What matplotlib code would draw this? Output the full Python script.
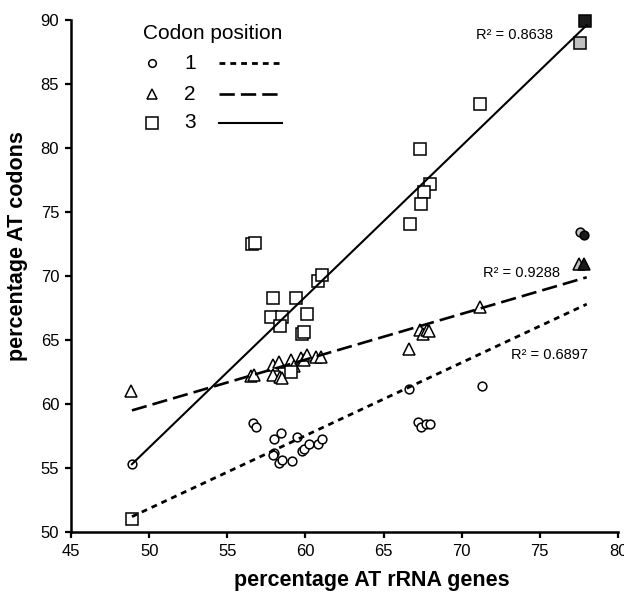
import matplotlib
matplotlib.use("Agg")
import matplotlib.pyplot as plt

plt.rcParams['font.family'] = ['Liberation Sans', 'DejaVu Sans']

# Codon position 1 (circles)
pos1_x = [48.9, 56.66, 56.84, 57.99, 58.42, 59.44, 57.99, 57.9, 58.33, 58.48, 59.16,
          59.75, 59.93, 60.2, 60.78, 61.03, 66.65, 71.3, 67.2, 67.4, 67.7, 68.0]
pos1_y = [55.3, 58.55, 58.2, 57.24, 57.71, 57.45, 56.2, 56.0, 55.4, 55.6, 55.57,
          56.35, 56.5, 56.85, 56.9, 57.3, 61.15, 61.4, 58.6, 58.2, 58.4, 58.4]
# Codon position 2 (triangles)
pos2_x = [48.84, 56.5, 56.7, 57.9, 58.3, 57.9, 58.4, 58.5, 59.1, 59.3, 59.7, 59.9,
          60.1, 60.7, 61.0, 67.3, 67.5, 67.75, 67.9, 66.6, 71.17]
pos2_y = [61.0, 62.2, 62.3, 63.05, 63.3, 62.3, 62.1, 62.0, 63.4, 63.0, 63.6, 63.4,
          63.8, 63.65, 63.65, 65.8, 65.5, 65.8, 65.7, 64.3, 67.55]
# Codon position 3 (squares)
pos3_x = [48.9, 56.6, 56.8, 57.9, 59.4, 57.8, 58.5, 58.4, 60.1, 59.8, 59.9, 59.1,
          60.8, 61.05, 67.3, 68.0, 67.6, 67.4, 66.7, 71.2]
pos3_y = [51.0, 72.5, 72.6, 68.3, 68.3, 66.8, 66.8, 66.1, 67.0, 65.5, 65.65, 62.5,
          69.6, 70.05, 79.9, 77.2, 76.6, 75.6, 74.1, 83.4]

# highlighted taxa (gray and black filled)
hl_x = {'1': [77.57, 77.85], '2': [77.5, 77.85], '3': [77.6, 77.88]}
hl_y = {'1': [73.4, 73.2], '2': [70.9, 70.9], '3': [88.2, 89.9]}
hl_colors = ['#c0c0c0', '#1a1a1a']

# regression lines (endpoints of fitted lines)
fit_x = [48.9, 78.0]
fit1_y = [51.2, 67.8]
fit2_y = [59.5, 69.9]
fit3_y = [55.3, 89.6]
r2_labels = ['R\u00b2 = 0.6897', 'R\u00b2 = 0.9288', 'R\u00b2 = 0.8638']
r2_pos = [(73.15, 63.8), (71.36, 70.2), (70.9, 88.8)]

legend_title = 'Codon position'
legend_labels = ['1', '2', '3']

fig = plt.figure(figsize=(6.24, 5.98), dpi=100)
ax = fig.add_axes([71/624, 66/598, 547/624, 512/598])

mk = dict(markerfacecolor='white', markeredgecolor='black', markeredgewidth=1.1,
          linestyle='none', zorder=2, clip_on=False)
styles = {
    '1': dict(marker='o', markersize=6.3),
    '2': dict(marker='^', markersize=8),
    '3': dict(marker='s', markersize=8.5),
}
ax.plot(pos1_x, pos1_y, **styles['1'], **mk)
ax.plot(pos2_x, pos2_y, **styles['2'], **mk)
ax.plot(pos3_x, pos3_y, **styles['3'], **mk)
for key in ['1', '2', '3']:
    for xx, yy, c in zip(hl_x[key], hl_y[key], hl_colors):
        ax.plot([xx], [yy], **styles[key], markerfacecolor=c, markeredgecolor='black',
                markeredgewidth=1.1, linestyle='none', zorder=2, clip_on=False)

line_styles = {
    '1': dict(color='black', linewidth=2.0, linestyle=(0, (2.1, 1.8))),
    '2': dict(color='black', linewidth=1.9, linestyle=(0, (5.8, 2.3))),
    '3': dict(color='black', linewidth=1.5, linestyle='-'),
}
ax.plot(fit_x, fit1_y, zorder=3, **line_styles['1'])
ax.plot(fit_x, fit2_y, zorder=3, **line_styles['2'])
ax.plot(fit_x, fit3_y, zorder=3, **line_styles['3'])

for lab, (xx, yy) in zip(r2_labels, r2_pos):
    ax.text(xx, yy, lab, fontsize=10.5, ha='left', va='center')

# legend drawn manually
ax.text(0.1316, 0.9746, legend_title, transform=ax.transAxes, fontsize=15,
        ha='left', va='center')
rows_y = [0.916, 0.855, 0.799]
leg_ms = {'1': 5.5, '2': 7, '3': 8}
for key, ry in zip(legend_labels, rows_y):
    ax.plot([0.148], [ry], transform=ax.transAxes, clip_on=False,
            marker=styles[key]['marker'], markersize=leg_ms[key],
            markerfacecolor='white', markeredgecolor='black', markeredgewidth=1.1,
            linestyle='none')
    ax.text(0.2175, ry, key, transform=ax.transAxes, fontsize=15, ha='center', va='center')
    ax.plot([0.2706, 0.3857], [ry, ry], transform=ax.transAxes, **line_styles[key])

ax.set_xlim(45, 80)
ax.set_ylim(50, 90)
ax.set_xticks(range(45, 81, 5))
ax.set_yticks(range(50, 91, 5))
for s in ['top', 'right']:
    ax.spines[s].set_visible(False)
for s in ['left', 'bottom']:
    ax.spines[s].set_linewidth(1.8)
ax.tick_params(direction='out', length=4.5, width=1.6, labelsize=12, pad=4)
ax.set_xlabel('percentage AT rRNA genes', fontsize=15.5, fontweight='bold', va='center')
ax.set_ylabel('percentage AT codons', fontsize=15.5, fontweight='bold', va='center')
ax.xaxis.set_label_coords(0.55, -0.094)
ax.yaxis.set_label_coords(-0.097, 0.5586)

fig.savefig('out.png', dpi=100)
